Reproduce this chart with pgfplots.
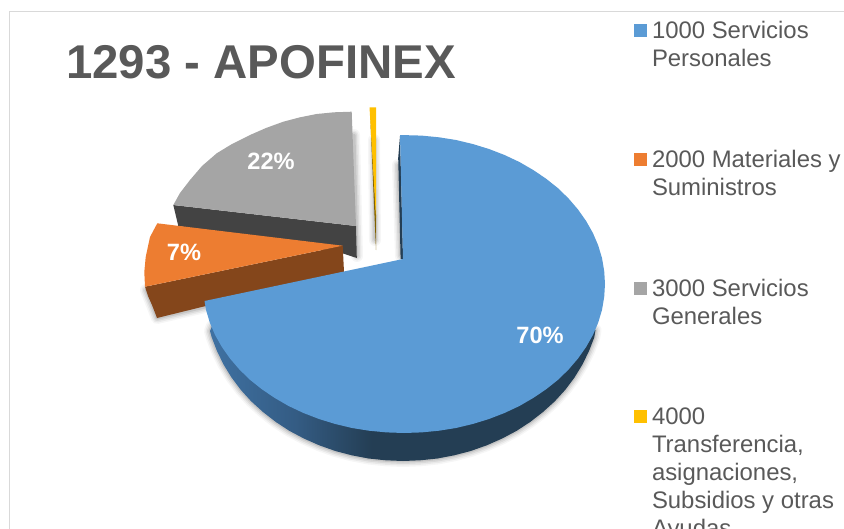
\documentclass[border=0pt]{standalone}
\usepackage{fontspec}
\setmainfont{Liberation Sans}
\usepackage{pgfplots}
\usepackage{pgfplotstable}
\pgfplotsset{compat=1.18}
\definecolor{cblue}{HTML}{5B9BD5}
\definecolor{cbluedark}{HTML}{243E54}
\definecolor{cbluemid}{HTML}{345C84}
\definecolor{cblueleft}{HTML}{3F71A2}
\definecolor{corange}{HTML}{ED7D31}
\definecolor{cbrown}{HTML}{84461B}
\definecolor{cgray}{HTML}{A5A5A5}
\definecolor{cgraydark}{HTML}{434343}
\definecolor{cyellow}{HTML}{FFC000}
\definecolor{cyellowdark}{HTML}{7F6000}
\definecolor{ctext}{HTML}{595959}
\definecolor{cframe}{HTML}{D9D9D9}
\pgfdeclarehorizontalshading{sideblue}{100bp}{color(0bp)=(cblueleft); color(25bp)=(cblueleft); color(36bp)=(cbluemid); color(46bp)=(cbluedark); color(100bp)=(cbluedark)}
% upper face of the 70% slice (pixels of the picture)
\pgfplotstableread{
x y
403 259
400 135
421.5 135.6
439 137.3
456 140
472.7 144
489 149
504.5 155
519.4 162
533.2 170
546.1 178.7
558 188.2
568.6 198.5
578 209.5
586.1 221
592.9 233
598.2 245.4
602 258.1
604.2 271
605 284
604.2 297
602 309.9
598.2 322.6
592.9 335
586.1 347
578 358.5
568.6 369.5
558 379.8
546.1 389.3
533.2 398
519.4 406
504.5 413
489 419
472.7 424
456 428
439 430.7
421.5 432.4
404 433
386.5 432.4
369 430.7
352 428
335.3 424
319 419
303.5 413
288.6 406
274.8 398
261.9 389.3
250 379.8
239.4 369.5
230 358.5
221.9 347
215.1 335
209.8 322.6
206 309.9
204.5 301
}\blueface
% lower rim of the 70% slice
\pgfplotstableread{
x y
595.5 330
594.3 337.3
589 351.1
582.4 364.6
574.5 377.5
565.2 389.9
554.7 401.4
543 412
530.3 421.9
516.7 430.8
502 438.6
486.8 445.3
470.7 451
454.3 455.3
437.5 458.5
420.2 460.3
403 461
385.8 460.3
368.5 458.5
351.7 455.3
335.3 451
319.2 445.3
304 438.6
289.3 430.8
275.7 421.9
263 412
251.3 401.4
240.8 389.9
231.5 377.5
223.6 364.6
217 351.1
211.7 337.3
210 331
212 326
}\bluerim
\pgfplotstableread{
x y
351.7 111.7
356 226
173.3 205
180 193
190 180
202 166
216.7 153.3
232 144
250 135
266 128
283.3 121.7
300 117.3
316.7 114
334 112.3
}\grayface
\pgfplotstableread{
x y
157.3 223.3
342.7 245.7
145 286.7
144.3 272
145.7 257
150 237
}\orangeface
\def\softshadow#1{%
  \addplot[forget plot,black,line cap=round,line join=round,line width=12bp,opacity=.035] coordinates {#1};
  \addplot[forget plot,black,line cap=round,line join=round,line width=9bp,opacity=.05] coordinates {#1};
  \addplot[forget plot,black,line cap=round,line join=round,line width=6bp,opacity=.07] coordinates {#1};
  \addplot[forget plot,black,line cap=round,line join=round,line width=3bp,opacity=.09] coordinates {#1};
}
\newcommand\legtext[1]{\parbox[t]{190bp}{\raggedright\fontsize{23.9bp}{28bp}\selectfont\color{ctext}#1}}
\begin{document}
\begin{tikzpicture}
\path[use as bounding box,clip] (0,0) rectangle (844bp,529bp);
\begin{axis}[
  at={(0,0)},anchor=south west,
  scale only axis,width=844bp,height=529bp,
  xmin=0,xmax=844,ymin=0,ymax=529,y dir=reverse,
  hide axis,clip=false,
  no markers,
  legend image code/.code={\fill[#1,draw=none] (0bp,-15bp) rectangle (13bp,-2bp);},
  legend style={at={(axis cs:634,21.5)},anchor=north west,draw=none,fill=none,inner sep=0pt,outer sep=0pt,
    row sep=113bp,column sep=5bp,cells={anchor=base west},nodes={inner sep=0pt,outer sep=0pt}},
  legend cell align=left,
]
% chart frame
\draw[cframe,line width=1bp] (axis cs:9,529)--(axis cs:9,11.7)--(axis cs:844,11.7);
% soft shadows
\addplot[forget plot,black,line cap=round,line join=round,line width=12bp,opacity=.035] table {\bluerim};
\addplot[forget plot,black,line cap=round,line join=round,line width=9bp,opacity=.05] table {\bluerim};
\addplot[forget plot,black,line cap=round,line join=round,line width=6bp,opacity=.07] table {\bluerim};
\addplot[forget plot,black,line cap=round,line join=round,line width=3bp,opacity=.09] table {\bluerim};
\softshadow{(354,135)(357,256)}
\softshadow{(374,140)(375,240)}
\softshadow{(398,165)(401,256)}
\softshadow{(146,290)(152,305)(157,318)(205,307)}
% 22%
\addplot[forget plot,fill=cgraydark,draw=none] coordinates {(173.3,205)(356,226)(356.8,258)(343,253.5)(178.3,226)} -- cycle;
\addplot[forget plot,fill=cgray,draw=none] table {\grayface} -- cycle;
% 7%
\addplot[forget plot,fill=cbrown,draw=none] coordinates {(145,286.7)(148,296)(152,305)(157,318)(344,272)(342.7,245.7)} -- cycle;
\addplot[forget plot,fill=corange,draw=none] table {\orangeface} -- cycle;
% 1%
\addplot[forget plot,fill=cyellowdark,draw=none] coordinates {(370,112)(376,215)(376,250)} -- cycle;
\addplot[forget plot,fill=cyellow,draw=none] coordinates {(369.5,107.3)(376,107.3)(376,218)} -- cycle;
% 70%
\addplot[forget plot,shade,shading=sideblue,draw=none] table {\bluerim} -- cycle;
\addplot[forget plot,fill=cbluedark,draw=none] coordinates {(400,136)(398.2,158)(400.6,259)(403,259)} -- cycle;
\addplot[forget plot,fill=cblue,draw=none] table {\blueface} -- cycle;
% data labels
\node[font=\bfseries\fontsize{23.6bp}{28bp}\selectfont,text=white] at (axis cs:540,335) {70\%};
\node[font=\bfseries\fontsize{23.6bp}{28bp}\selectfont,text=white] at (axis cs:271,161) {22\%};
\node[font=\bfseries\fontsize{23.6bp}{28bp}\selectfont,text=white] at (axis cs:184,252) {7\%};
% title
\node[anchor=base west,inner sep=0pt,font=\bfseries\fontsize{47.4bp}{56bp}\selectfont,text=ctext] at (axis cs:66,78.5) {1293 - APOFINEX};
% legend
\addlegendimage{fill=cblue}
\addlegendentry{\legtext{1000 Servicios\\Personales}}
\addlegendimage{fill=corange}
\addlegendentry{\legtext{2000 Materiales y\\Suministros}}
\addlegendimage{fill=cgray}
\addlegendentry{\legtext{3000 Servicios\\Generales}}
\addlegendimage{fill=cyellow}
\addlegendentry{\legtext{4000\\Transferencia,\\asignaciones,\\Subsidios y otras\\Ayudas}}
\end{axis}
\end{tikzpicture}
\end{document}
